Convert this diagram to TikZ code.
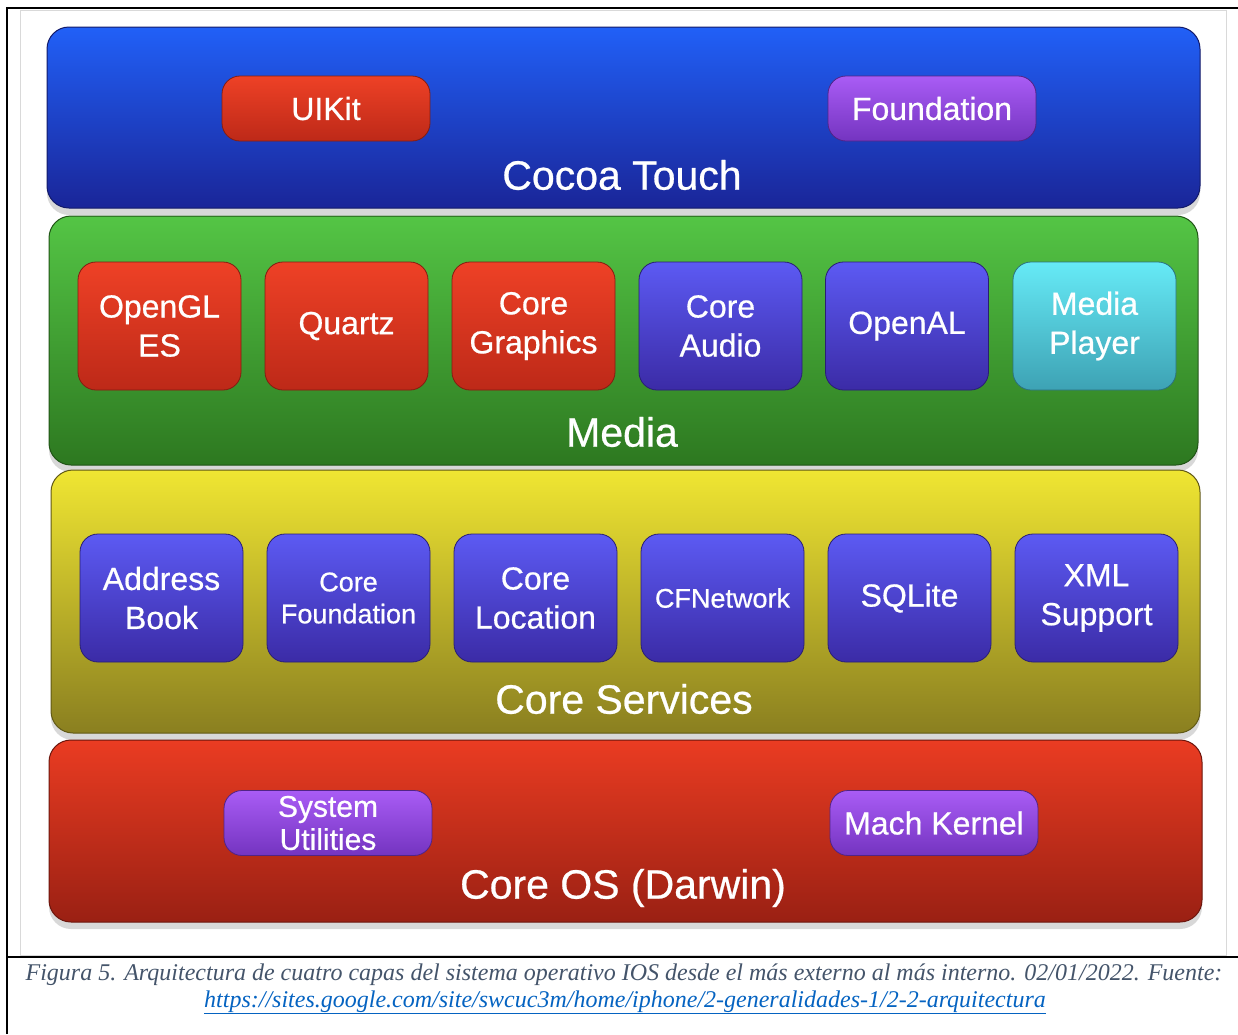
\documentclass[tikz,border=0pt]{standalone}
\usepackage{fontspec}
\newfontfamily\diafont[FakeBold=0.6]{Liberation Sans}
\newfontfamily\capfont{Liberation Serif}
\usetikzlibrary{shadows}
\definecolor{captext}{HTML}{44546A}
\definecolor{linkblue}{HTML}{0563C1}
\definecolor{cocoatop}{HTML}{2160F7}
\definecolor{cocoabot}{HTML}{1A2598}
\definecolor{mediatop}{HTML}{54C545}
\definecolor{mediabot}{HTML}{2D7820}
\definecolor{servtop}{HTML}{F0E632}
\definecolor{servbot}{HTML}{8A7F20}
\definecolor{ostop}{HTML}{EA3C22}
\definecolor{osbot}{HTML}{9A2013}
\definecolor{redtop}{HTML}{EE4126}
\definecolor{redbot}{HTML}{BD2918}
\definecolor{bluetop}{HTML}{5C5AF3}
\definecolor{bluebot}{HTML}{3B2BA6}
\definecolor{cyantop}{HTML}{66EAF6}
\definecolor{cyanbot}{HTML}{3DA2B4}
\definecolor{violettop}{HTML}{A95CF5}
\definecolor{violetbot}{HTML}{7434C0}

\begin{document}
\begin{tikzpicture}[x=1pt,y=-1pt,
  layer/.style={rounded corners=22pt, inner sep=0pt, line width=1pt,
    drop shadow={shadow xshift=0pt, shadow yshift=-7pt, opacity=0.3}},
  title/.style={text=white, font=\diafont\fontsize{41}{48}\selectfont},
  module/.style={rounded corners=18pt, minimum width=163pt, minimum height=128pt,
    inner sep=0pt, align=center, text=white, line width=0.8pt,
    font=\diafont\fontsize{32}{39}\selectfont},
  wide/.style={module, minimum width=208pt, minimum height=65pt,
    font=\diafont\fontsize{32}{34}\selectfont},
  redmod/.style={top color=redtop, bottom color=redbot, draw=redbot!70!black},
  bluemod/.style={top color=bluetop, bottom color=bluebot, draw=bluebot!70!black},
  cyanmod/.style={top color=cyantop, bottom color=cyanbot, draw=cyanbot!70!black},
  violetmod/.style={top color=violettop, bottom color=violetbot, draw=violetbot!70!black}]

\useasboundingbox (0,0) rectangle (1238,1034);
\draw[black!15, fill=white] (20,10) rectangle (1226,955);

% the four layers
\node[layer, minimum width=1153pt, minimum height=181pt, top color=cocoatop, bottom color=cocoabot, draw=cocoabot!70!black] (cocoa) at (623.5,117.5) {};
\node[layer, minimum width=1149pt, minimum height=249pt, top color=mediatop, bottom color=mediabot, draw=mediabot!70!black] (media) at (623.5,340.5) {};
\node[layer, minimum width=1149pt, minimum height=263pt, top color=servtop, bottom color=servbot, draw=servbot!70!black] (services) at (625.5,601.5) {};
\node[layer, minimum width=1153pt, minimum height=182pt, top color=ostop, bottom color=osbot, draw=osbot!70!black] (coreos) at (625.5,831) {};

\node[title] (cocoalbl) at (622,175) {Cocoa Touch};
\node[title] (medialbl) at (622,432) {Media};
\node[title] (serviceslbl) at (624,699) {Core Services};
\node[title] (coreoslbl) at (623,888) {Core OS (Darwin)};

% Cocoa Touch
\node[wide, redmod] (uikit) at (326,108.5) {UIKit};
\node[wide, violetmod] (foundation) at (932,108.5) {Foundation};

% Media
\node[module, redmod] (opengl) at (159.5,326) {OpenGL\\ES};
\node[module, redmod] (quartz) at (346.5,326) {Quartz};
\node[module, redmod] (graphics) at (533.5,326) {Core\\Graphics};
\node[module, bluemod] (audio) at (720.5,326) {Core\\Audio};
\node[module, bluemod] (openal) at (907,326) {OpenAL};
\node[module, cyanmod] (player) at (1094.5,326) {Media\\Player};

% Core Services
\node[module, bluemod] (address) at (161.5,598) {Address\\Book};
\node[module, bluemod, font=\diafont\fontsize{27}{32}\selectfont] (cfoundation) at (348.5,598) {Core\\Foundation};
\node[module, bluemod] (location) at (535.5,598) {Core\\Location};
\node[module, bluemod, font=\diafont\fontsize{27}{32}\selectfont] (cfnetwork) at (722.5,598) {CFNetwork};
\node[module, bluemod] (sqlite) at (909.5,598) {SQLite};
\node[module, bluemod] (xml) at (1096.5,598) {XML\\Support};

% Core OS
\node[wide, violetmod, font=\diafont\fontsize{30}{33}\selectfont] (sysutil) at (328,823) {System\\Utilities};
\node[wide, violetmod] (mach) at (934,823) {Mach Kernel};

% frame and caption
\draw[line width=2.5pt] (7,1034) -- (7,8) -- (1238,8);
\draw[line width=2.5pt] (7,957) -- (1238,957);
\node[anchor=base, text=captext, font=\capfont\itshape\fontsize{24}{28}\selectfont] (caption) at (624,980)
  {Figura 5. Arquitectura de cuatro capas del sistema operativo IOS desde el más externo al más interno. 02/01/2022. Fuente:};
\node[anchor=base, text=linkblue, font=\capfont\itshape\fontsize{24}{28}\selectfont] (source) at (625,1007)
  {\underline{https://sites.google.com/site/swcuc3m/home/iphone/2-generalidades-1/2-2-arquitectura}};
\end{tikzpicture}
\end{document}
